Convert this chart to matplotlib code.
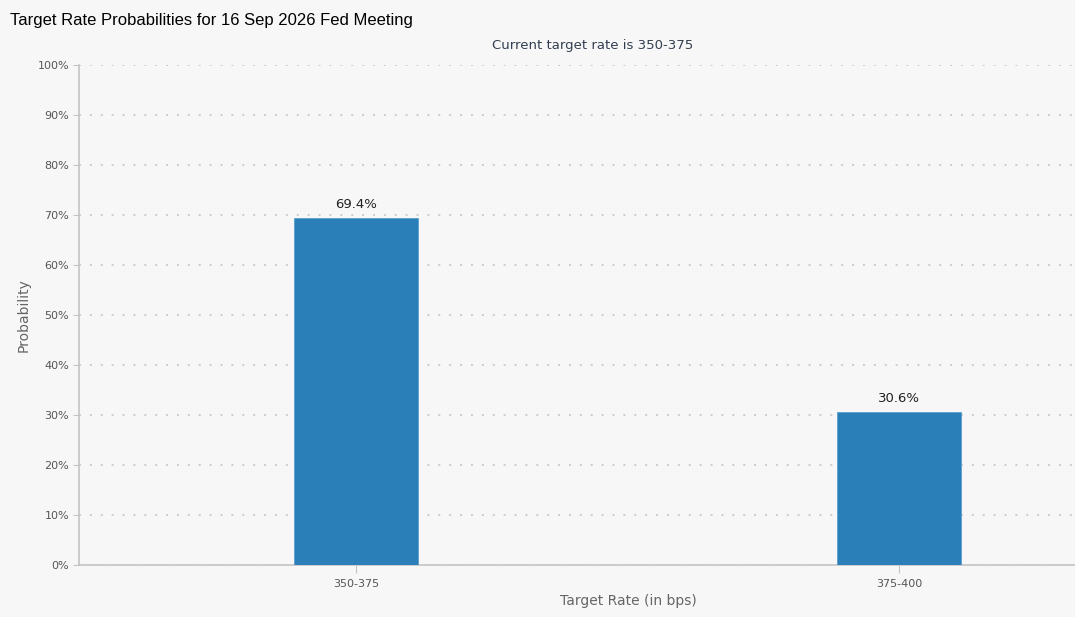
import matplotlib
matplotlib.use("Agg")
import matplotlib.pyplot as plt
from matplotlib.ticker import FuncFormatter, MultipleLocator

categories = ["350-375", "375-400"]
probabilities = [69.4, 30.6]
bar_labels = ["69.4%", "30.6%"]

title = "Target Rate Probabilities for 16 Sep 2026 Fed Meeting"
subtitle = "Current target rate is 350-375"

W, H = 1075, 617
fig = plt.figure(figsize=(W / 100, H / 100), dpi=100)
bg = "#f7f7f7"
fig.patch.set_facecolor(bg)

left_px, right_px, top_px, bot_px = 79, 1177, 65, 565
ax = fig.add_axes([left_px / W, (H - bot_px) / H, (right_px - left_px) / W, (bot_px - top_px) / H])
ax.set_facecolor(bg)

x = list(range(len(categories)))
ax.bar(x, probabilities, width=0.228, color="#2a7fb8", edgecolor="#5a9fcf", linewidth=0.6, zorder=3)
for xi, v, lab in zip(x, probabilities, bar_labels):
    ax.annotate(lab, (xi, v), xytext=(0, 5), textcoords="offset points", ha="center", va="bottom",
                fontsize=9.5, color="#222222", family="DejaVu Sans")

ax.set_xlim(-0.510, 1.512)
ax.set_ylim(0, 100)
ax.yaxis.set_major_locator(MultipleLocator(10))
ax.yaxis.set_major_formatter(FuncFormatter(lambda v, p: f"{int(v)}%"))
ax.set_xticks(x)
ax.set_xticklabels(categories)

ax.grid(axis="y", linestyle=(0, (1, 4.6)), color="#cccccc", linewidth=1.4, zorder=0)
for s in ["top", "right"]:
    ax.spines[s].set_visible(False)
for s in ["left", "bottom"]:
    ax.spines[s].set_color("#c4c4c4")
    ax.spines[s].set_linewidth(1.2)

ax.tick_params(axis="y", length=4, color="#c4c4c4", labelsize=8, labelcolor="#555555", pad=3)
ax.tick_params(axis="x", length=6, color="#c4c4c4", labelsize=8, labelcolor="#555555", pad=4)

ax.set_ylabel("Probability", fontsize=10, color="#666666", labelpad=5)
ax.set_xlabel("Target Rate (in bps)", fontsize=10, color="#666666", labelpad=4)

fig.text(10 / W, 1 - 20 / H, title, fontsize=12, family="Liberation Sans", color="#000000",
         ha="left", va="center")
fig.text(593 / W, 1 - 45 / H, subtitle, fontsize=9.5, color="#333f50", ha="center", va="center")

fig.savefig("out.png", dpi=100, facecolor=bg)
